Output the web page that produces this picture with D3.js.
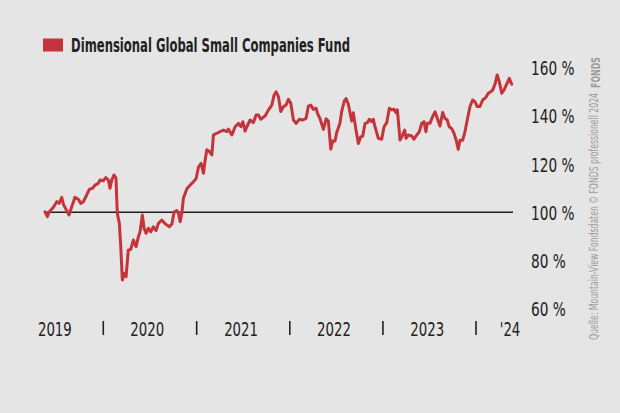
<!DOCTYPE html>
<html><head><meta charset="utf-8">
<script src="https://cdn.jsdelivr.net/npm/d3@7"></script>
<style>html,body{margin:0;padding:0;background:#e5e5e5;} svg{display:block;}</style>
</head><body>
<svg id="c" width="620" height="413"></svg>
<script>
const seriesName = "Dimensional Global Small Companies Fund";
// dates as decimal years
const dates = [
2019.374,2019.399,2019.421,2019.464,2019.500,2019.525,2019.554,2019.571,2019.600,2019.632,
2019.661,2019.696,2019.732,2019.758,2019.785,2019.822,2019.850,2019.886,2019.911,2019.946,
2019.965,2020.000,2020.026,2020.054,2020.072,2020.090,2020.115,2020.136,2020.150,2020.172,
2020.187,2020.204,2020.222,2020.244,2020.268,2020.294,2020.322,2020.351,2020.376,2020.394,
2020.418,2020.437,2020.458,2020.483,2020.509,2020.536,2020.565,2020.590,2020.627,2020.651,
2020.680,2020.708,2020.734,2020.759,2020.788,2020.805,2020.823,2020.841,2020.858,2020.895,
2020.930,2020.966,2020.995,2021.019,2021.048,2021.073,2021.091,2021.109,2021.137,2021.163,
2021.180,2021.217,2021.252,2021.288,2021.324,2021.341,2021.378,2021.413,2021.449,2021.474,
2021.496,2021.520,2021.539,2021.574,2021.609,2021.638,2021.663,2021.689,2021.735,2021.770,
2021.807,2021.832,2021.853,2021.878,2021.903,2021.931,2021.960,2021.985,2022.011,2022.039,
2022.068,2022.103,2022.140,2022.175,2022.200,2022.225,2022.253,2022.282,2022.296,2022.325,
2022.361,2022.390,2022.414,2022.440,2022.461,2022.486,2022.504,2022.540,2022.558,2022.586,
2022.604,2022.629,2022.647,2022.665,2022.682,2022.711,2022.736,2022.762,2022.783,2022.808,
2022.833,2022.854,2022.880,2022.897,2022.915,2022.951,2022.987,2023.012,2023.041,2023.069,
2023.094,2023.119,2023.141,2023.155,2023.184,2023.212,2023.234,2023.248,2023.273,2023.309,
2023.334,2023.363,2023.391,2023.416,2023.441,2023.462,2023.476,2023.505,2023.534,2023.559,
2023.584,2023.613,2023.642,2023.666,2023.691,2023.712,2023.738,2023.763,2023.784,2023.809,
2023.827,2023.856,2023.881,2023.906,2023.935,2023.964,2023.988,2024.013,2024.042,2024.071,
2024.106,2024.131,2024.157,2024.178,2024.203,2024.227,2024.249,2024.275,2024.299,2024.328,
2024.356,2024.382];
const values = [
100.2,98.2,100.2,102.1,104.4,103.7,106.2,103.4,101.2,98.9,
102.3,106.2,105.4,103.7,104.4,107.2,109.5,110.0,111.3,112.0,
113.4,113.1,114.4,113.4,110.0,113.4,115.5,114.1,99.6,95.4,
85.7,71.9,74.7,73.3,84.4,84.6,88.5,85.7,89.9,91.9,
98.9,93.4,91.3,93.4,91.9,94.0,92.4,95.4,96.8,95.7,
94.7,94.0,95.1,100.2,100.7,99.6,96.1,99.6,105.8,109.8,
111.3,112.7,114.1,118.7,120.3,116.2,121.7,125.9,125.2,123.8,
132.1,132.8,133.5,134.1,133.5,134.5,132.1,135.5,136.9,135.5,
137.6,133.7,135.5,138.3,137.2,140.4,140.4,138.6,140.0,142.4,
144.5,148.7,150.0,148.0,141.8,143.8,144.5,146.9,145.2,138.3,
136.9,138.6,138.3,139.0,144.1,144.5,142.7,143.2,141.3,138.8,
134.4,138.8,137.9,126.2,129.6,129.6,133.1,137.2,142.0,146.2,
147.2,144.8,141.3,137.9,141.3,134.1,128.6,131.3,131.6,136.9,
137.2,138.6,137.6,138.6,135.5,130.7,130.3,135.5,137.2,143.2,
142.5,142.8,141.3,142.5,130.0,132.1,134.1,130.7,132.1,131.7,
130.3,132.1,133.4,136.9,137.6,133.4,136.9,136.9,139.7,141.7,
139.0,135.8,141.4,139.0,138.3,135.5,134.8,132.8,130.3,126.1,
129.9,129.9,133.4,138.3,143.9,146.6,145.9,143.9,143.9,146.6,
147.7,149.4,150.0,150.7,153.2,157.0,154.2,149.4,150.7,153.2,
155.6,153.2];
const yTicks = [60, 80, 100, 120, 140, 160];
const baselineValue = 100;
const yearLabels = ["2019", "2020", "2021", "2022", "2023", "'24"];
const yearLabelDates = [2019.48, 2020.47, 2021.477, 2022.475, 2023.476, 2024.364];
const yearDividers = [2020, 2021, 2022, 2023, 2024];
const sourceText = "Quelle: Mountain-View Fondsdaten  \u00A9 FONDS professionell 2024";
const logoText = "FONDS";

const RED = "#c4343a";
const FONT = "'Liberation Sans Narrow','DejaVu Sans Condensed','Roboto',sans-serif";

function toDate(y) {
  const yr = Math.floor(y);
  const s = new Date(yr, 0, 1), e = new Date(yr + 1, 0, 1);
  return new Date(+s + (y - yr) * (e - s));
}
const data = dates.map((d, i) => ({ date: toDate(d), value: values[i] }));

const svg = d3.select("#c");
svg.append("rect").attr("width", 620).attr("height", 413).attr("fill", "#e5e5e5");

const x = d3.scaleTime()
  .domain([data[0].date, data[data.length - 1].date])
  .range([45, 511.7]);
const y = d3.scaleLinear().domain([60, 160]).range([308.7, 67.7]);

// y labels
svg.append("g").selectAll("text").data(yTicks).join("text")
  .attr("transform", d => `translate(531,${y(d) + 7.5}) scale(0.76,1)`)
  .attr("font-family", FONT).attr("font-size", 20).attr("fill", "#222")
  .text(d => d + " %");

// baseline
svg.append("line")
  .attr("x1", 45).attr("x2", 513)
  .attr("y1", y(baselineValue)).attr("y2", y(baselineValue))
  .attr("stroke", "#1e1e1e").attr("stroke-width", 1.5);

// series line
svg.append("path").datum(data)
  .attr("fill", "none").attr("stroke", RED).attr("stroke-width", 3)
  .attr("stroke-linejoin", "round").attr("stroke-linecap", "round")
  .attr("d", d3.line().x(d => x(d.date)).y(d => y(d.value)));

// x labels
svg.append("g").selectAll("text").data(yearLabels).join("text")
  .attr("transform", (d, i) => `translate(${x(toDate(yearLabelDates[i]))},335.5) scale(0.74,1)`)
  .attr("text-anchor", "middle")
  .attr("font-family", FONT).attr("font-size", 20).attr("fill", "#222")
  .text(d => d);

// dividers
svg.append("g").selectAll("line").data(yearDividers).join("line")
  .attr("x1", d => x(toDate(d))).attr("x2", d => x(toDate(d)))
  .attr("y1", 321).attr("y2", 335)
  .attr("stroke", "#222").attr("stroke-width", 1.6);

// legend
svg.append("rect").attr("x", 43).attr("y", 38.5).attr("width", 20).attr("height", 13).attr("fill", RED);
svg.append("text").attr("x", 71).attr("y", 51.5)
  .attr("font-family", FONT).attr("font-size", 19).attr("font-weight", "bold")
  .attr("fill", "#222").attr("textLength", 279).attr("lengthAdjust", "spacingAndGlyphs")
  .text(seriesName);

// source
svg.append("text").attr("transform", "translate(598,340) rotate(-90)")
  .attr("font-family", FONT).attr("font-size", 11.5).attr("fill", "#9c9c9c")
  .attr("textLength", 247).attr("lengthAdjust", "spacingAndGlyphs")
  .text(sourceText);
svg.append("text").attr("transform", "translate(600,88) rotate(-90)")
  .attr("font-family", FONT).attr("font-size", 13).attr("font-weight", "bold").attr("fill", "#9c9c9c")
  .attr("textLength", 31).attr("lengthAdjust", "spacingAndGlyphs")
  .text(logoText);
</script>
</body></html>
